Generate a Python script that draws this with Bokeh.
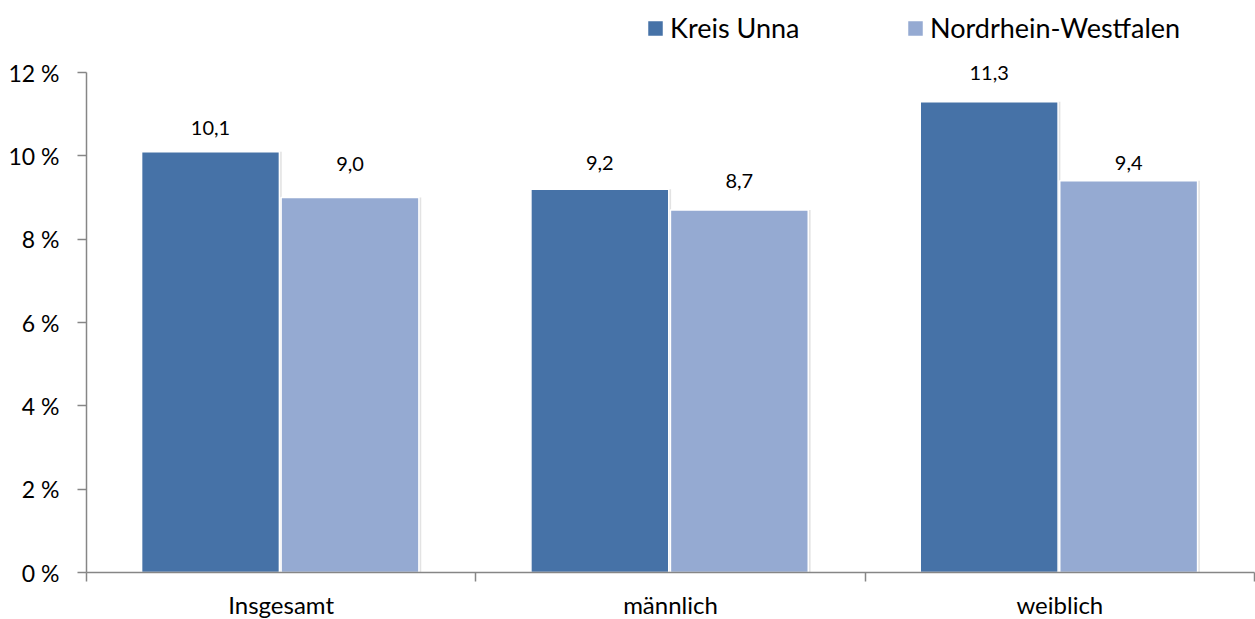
from bokeh.plotting import figure
from bokeh.models import FixedTicker, Range1d, Legend, LegendItem, ColumnDataSource
from bokeh.core.properties import value
from bokeh.embed import file_html
from bokeh.resources import INLINE

categories = ["Insgesamt", "männlich", "weiblich"]
series_names = ["Kreis Unna", "Nordrhein-Westfalen"]
kreis_unna = [10.1, 9.2, 11.3]
nrw = [9.0, 8.7, 9.4]
y_ticks = [0, 2, 4, 6, 8, 10, 12]
colors = ["#4672A7", "#95AAD2"]
# label offsets above bar top (screen px), as placed in the original
label_offsets_kreis = [24, 26, 29]
label_offsets_nrw = [34, 29, 18]

FONT = "Lato"

# frame extends to the top of the figure so the legend (drawn inside the frame) is visible;
# the y axis line is bounded to 0..12 %
y_max = 12 * 572 / 500
p = figure(frame_width=1168, frame_height=572, output_backend="svg", toolbar_location=None,
           x_range=Range1d(0, len(categories)), y_range=Range1d(0, y_max),
           min_border_left=86, min_border_right=1, min_border_top=0, min_border_bottom=47)
p.outline_line_color = None
p.xgrid.visible = False
p.ygrid.visible = False
p.background_fill_color = "white"
p.border_fill_color = "white"

axis_color = "#868686"
# y axis
p.yaxis.bounds = (0, 12)
p.yaxis.ticker = FixedTicker(ticks=y_ticks, minor_ticks=[])
p.yaxis.major_label_overrides = {t: f"{t} %" for t in y_ticks}
p.yaxis.axis_line_color = axis_color
p.yaxis.axis_line_width = 1.5
p.yaxis.major_tick_line_color = axis_color
p.yaxis.major_tick_line_width = 1.5
p.yaxis.major_tick_out = 9
p.yaxis.major_tick_in = 0
p.yaxis.minor_tick_line_color = None
p.yaxis.major_label_standoff = 18
p.yaxis.major_label_text_font = FONT
p.yaxis.major_label_text_font_size = "23px"
p.yaxis.major_label_text_color = "#000000"

# x axis
centers = [i + 0.5 for i in range(len(categories))]
p.xaxis.ticker = FixedTicker(ticks=centers, minor_ticks=list(range(len(categories) + 1)))
p.xaxis.major_label_overrides = {c: name for c, name in zip(centers, categories)}
p.xaxis.axis_line_color = axis_color
p.xaxis.axis_line_width = 1.5
p.xaxis.major_tick_line_color = None
p.xaxis.major_tick_out = 0
p.xaxis.major_tick_in = 0
p.xaxis.minor_tick_line_color = axis_color
p.xaxis.minor_tick_line_width = 1.5
p.xaxis.minor_tick_out = 9
p.xaxis.minor_tick_in = 0
p.xaxis.major_label_standoff = 8
p.xaxis.major_label_text_font = FONT
p.xaxis.major_label_text_font_size = "24px"
p.xaxis.major_label_text_color = "#000000"

bar_w = 0.354
offsets = [-0.1815, 0.1768]
renderers = []
for vals, loffs, off, col in zip([kreis_unna, nrw], [label_offsets_kreis, label_offsets_nrw],
                                 offsets, colors):
    xs = [c + off for c in centers]
    src = ColumnDataSource(dict(x=xs, top=vals,
                                xs=[x + 0.006 for x in xs],
                                yoff=[-o for o in loffs],
                                label=[f"{v:.1f}".replace(".", ",") for v in vals]))
    p.vbar(x="xs", top="top", width=bar_w, bottom=0, source=src,
           fill_color="#d0d0d0", fill_alpha=0.6, line_color=None)
    r = p.vbar(x="x", top="top", width=bar_w, bottom=0, source=src,
               fill_color=col, line_color="white", line_width=1.5)
    renderers.append(r)
    p.text(x="x", y="top", text="label", source=src, text_align="center",
           text_baseline="alphabetic", y_offset="yoff",
           text_font=value(FONT), text_font_size="20px", text_color="#000000")

legend_x = [559, 819]
for name, r, lx in zip(series_names, renderers, legend_x):
    lg = Legend(items=[LegendItem(label=name, renderers=[r])],
                orientation="horizontal", location=(lx, 528))
    lg.label_text_font = FONT
    lg.label_text_font_size = "27px"
    lg.label_text_color = "#000000"
    lg.glyph_width = 20
    lg.glyph_height = 20
    lg.label_standoff = 5
    lg.padding = 0
    lg.margin = 0
    lg.border_line_color = None
    lg.background_fill_alpha = 0
    p.add_layout(lg, "center")

open("out.html", "w").write(file_html(p, INLINE))
